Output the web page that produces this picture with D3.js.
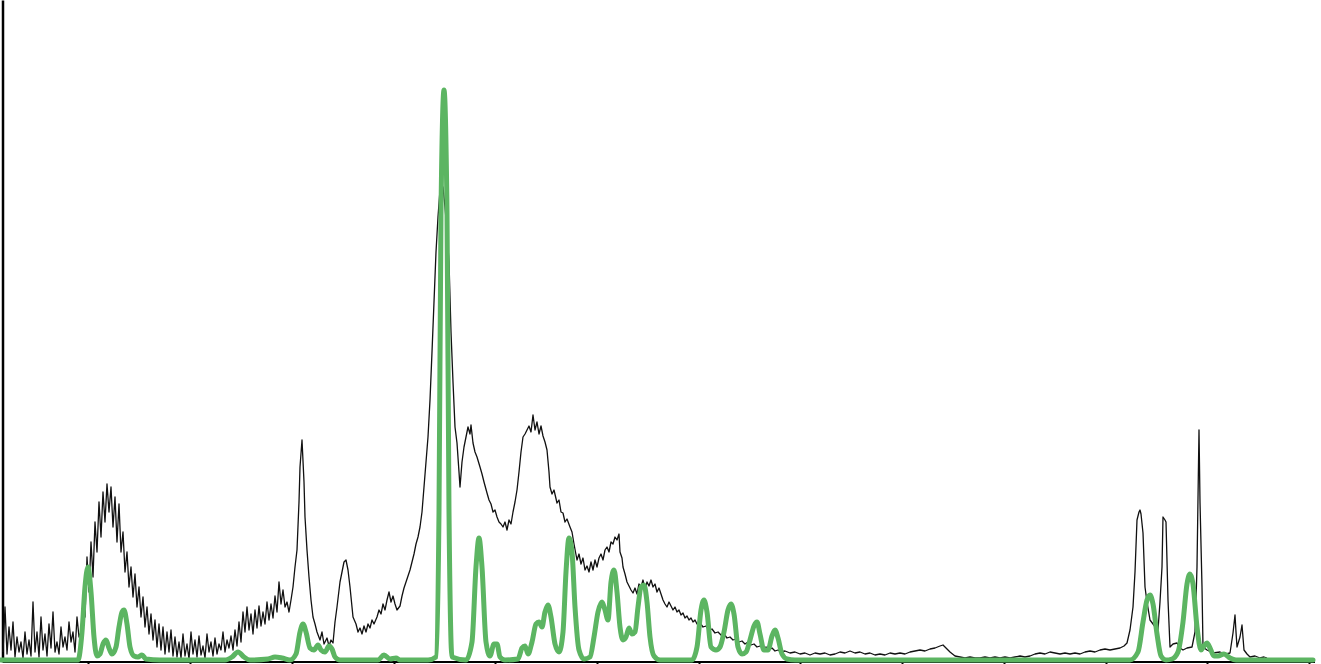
<!DOCTYPE html>
<html>
<head>
<meta charset="utf-8">
<script src="https://cdn.jsdelivr.net/npm/d3@7"></script>
<style>
  html, body { margin: 0; padding: 0; background: #fff; }
  svg { display: block; }
</style>
</head>
<body>
<svg id="chart" width="1321" height="664"></svg>
<script>
// measured spectrum (black), [channel, counts]
const measured = [
  [3,10],[5,55],[7,8],[9,35],[11,12],[13,40],[15,5],[17,25],[19,10],[21,20],[23,4],[25,30],
  [27,8],[29,22],[31,6],[33,60],[35,10],[37,30],[39,5],[41,45],[43,12],[45,28],[47,6],[49,38],
  [51,14],[53,50],[55,10],[57,20],[59,8],[61,35],[63,15],[65,25],[67,12],[69,40],[71,20],[73,30],
  [75,10],[77,45],[79,25],
  [81,30],[83,60],[85,45],[87,105],[89,70],[91,120],[93,85],[95,140],[97,110],[99,160],[101,125],
  [103,170],[105,140],[107,178],[109,150],[111,175],[113,135],[115,165],[117,120],[119,158],
  [121,110],[123,130],[125,90],[127,110],[129,75],[131,95],[133,65],[135,88],[137,55],[139,75],
  [141,45],[143,65],[145,35],[147,55],[149,28],[151,48],[153,22],[155,42],[157,15],[159,38],
  [161,12],[163,35],[165,8],[167,30],[169,10],[171,32],[173,6],
  [175,25],[177,5],[179,20],[181,4],[183,28],[185,6],[187,18],[189,3],[191,30],[193,8],[195,22],
  [197,5],[199,26],[201,7],[203,16],[205,4],[207,28],[209,10],[211,20],[213,6],[215,24],[217,8],
  [219,18],[221,12],[223,30],[225,10],[227,22],[229,14],[231,26],[233,12],[235,32],[237,16],
  [239,40],[241,20],[243,50],[245,30],[247,55],[249,32],[251,48],[253,28],[255,52],[257,34],
  [259,56],[261,36],[263,50],[265,38],[267,60],[269,42],[271,58],[273,44],[275,66],[277,50],
  [279,80],[281,58],[283,72],[285,55],[287,60],[289,50],[291,62],[293,75],[295,95],[297,112],
  [299,160],[300,195],[302,222],[304,180],[305,145],[307,112],[309,85],[311,62],[313,45],
  [315,38],[317,30],[320,22],[322,30],[324,18],[327,24],[329,16],[331,22],[333,19],[335,40],
  [337,55],[340,80],[342,90],[344,100],[346,102],[348,92],[350,75],[352,55],[353,45],[356,38],
  [358,30],[360,34],[362,28],[364,36],[366,30],[368,38],[370,34],[372,42],[374,38],[377,45],
  [379,52],[381,48],[383,58],[385,52],[387,62],[389,70],[391,60],[393,66],[395,58],[397,52],
  [400,56],[402,66],[404,74],[406,80],[408,86],[410,92],[412,100],[414,108],[416,118],
  [418,125],[420,135],[422,150],[424,175],[426,200],[428,225],[430,262],[432,310],[434,360],
  [436,410],[438,445],[440,472],[442,468],[443,475],[445,455],[447,430],[449,400],[451,330],
  [453,280],[455,235],[457,219],[459,190],[460,175],[462,200],[464,215],[466,225],[468,235],
  [470,228],[471,237],[473,219],[475,210],[477,205],[480,195],[482,188],[484,180],[487,169],
  [489,162],[491,158],[493,150],[495,152],[497,145],[499,140],[501,138],[503,135],[505,140],
  [507,132],[509,142],[511,138],[513,150],[515,160],[517,172],[519,190],[521,210],[523,225],
  [525,228],[527,232],[529,236],[531,230],[533,247],[535,232],[537,240],[539,228],[541,236],
  [543,226],[545,220],[547,212],[549,190],[550,175],[552,168],[554,172],[557,159],[559,162],
  [561,150],[563,149],[565,140],[567,143],[570,135],[572,130],[574,118],[577,102],[579,108],
  [581,98],[583,104],[585,92],[587,96],[589,90],[591,100],[593,92],[595,102],[597,95],
  [599,104],[601,108],[603,102],[605,112],[607,115],[609,110],[611,120],[613,118],[615,125],
  [617,122],[619,128],[620,110],[622,104],[623,95],[625,88],[627,80],[629,76],[631,72],
  [633,69],[635,74],[637,68],[639,78],[641,75],[643,82],[645,72],[647,80],[649,76],[651,82],
  [653,75],[655,78],[657,70],[659,74],[661,68],[663,62],[665,58],[667,55],[669,60],[671,56],
  [673,52],[675,55],[677,50],[679,52],[681,47],[683,49],[685,44],[687,46],[689,42],[691,44],
  [693,40],[695,42],[697,38],[700,39],[703,35],[706,36],[709,32],[712,33],[715,29],[718,30],
  [721,27],[724,28],[727,24],[730,25],[733,22],[736,23],[739,20],[742,21],[745,18],[748,20],
  [751,17],[754,18],[757,15],[760,16],[763,14],[766,15],[769,12],[772,14],[775,11],[778,12],
  [781,10],[785,11],[790,9],[795,10],[800,8],[805,9],[810,7],[815,9],[820,8],[825,9],[830,7],
  [835,8],[840,10],[845,9],[850,11],[855,9],[860,10],[865,8],[870,9],[875,7],[880,8],[885,7],
  [890,9],[895,8],[900,9],[905,8],[910,10],[915,11],[920,12],[925,11],[930,13],[935,14],
  [940,16],[943,17],[946,14],[950,10],[955,6],[960,5],[965,4],[970,5],[975,4],[980,4],
  [985,5],[990,4],[995,5],[1000,4],[1005,5],[1010,4],[1015,5],[1020,6],[1025,5],[1030,6],
  [1035,8],[1040,9],[1045,8],[1050,10],[1055,9],[1060,8],[1065,9],[1070,8],[1075,9],[1080,8],
  [1085,10],[1090,11],[1095,10],[1100,12],[1105,13],[1110,12],[1115,13],[1120,14],[1124,16],
  [1127,19],[1130,32],[1133,55],[1135,90],[1137,142],[1139,150],[1140,152],[1141,148],
  [1143,129],[1145,75],[1147,60],[1150,42],[1153,38],[1156,34],[1158,32],[1160,60],[1162,95],
  [1163,145],[1165,142],[1166,140],[1168,62],[1170,15],[1173,18],[1177,19],[1180,14],
  [1183,12],[1187,14],[1192,15],[1195,30],[1197,95],[1199,232],[1200,160],[1202,75],
  [1203,15],[1207,12],[1213,9],[1220,10],[1226,8],[1230,9],[1233,29],[1235,47],[1236,30],
  [1237,15],[1240,25],[1242,37],[1244,12],[1247,8],[1250,5],[1255,6],[1260,4],[1264,5],[1267,4]
];

// fitted components sum (green), [channel, counts]
const fitted = [
  [0,2],[78,2],[82,30],[85,75],[88,95],[91,70],[94,25],[97,6],[100,8],[103,18],[106,22],
  [109,14],[112,8],[116,15],[119,35],[122,50],[124,52],[127,38],[130,15],[134,6],[138,5],
  [142,7],[146,3],[160,2],[225,2],[232,5],[238,10],[244,5],[250,2],[268,3],[275,5],[282,4],
  [290,2],[296,8],[300,30],[303,38],[306,30],[310,14],[314,12],[318,17],[321,12],[325,10],
  [329,16],[332,13],[335,5],[340,2],[378,2],[384,7],[390,3],[396,4],[400,2],[428,2],[436,5],
  [439,150],[441,450],[444,572],[447,450],[449,150],[452,5],[466,2],[472,20],[476,95],
  [479,124],[482,95],[486,20],[490,6],[494,18],[497,18],[500,5],[505,2],[518,3],[522,14],
  [525,16],[528,8],[532,20],[536,38],[539,40],[542,35],[545,50],[548,57],[551,45],[555,18],
  [559,10],[563,30],[566,90],[569,124],[572,110],[575,55],[579,12],[584,3],[590,5],[594,25],
  [598,50],[602,60],[605,52],[608,42],[611,80],[614,92],[617,70],[620,35],[623,22],[626,25],
  [629,34],[632,28],[635,30],[638,55],[641,75],[644,77],[647,60],[650,25],[654,6],[660,2],
  [692,2],[697,15],[701,52],[704,62],[707,50],[711,15],[716,12],[720,15],[724,30],[728,52],
  [731,58],[734,48],[738,15],[742,8],[746,10],[750,22],[754,36],[757,40],[760,28],[764,12],
  [768,12],[772,26],[775,32],[778,24],[782,8],[787,3],[795,2],[1130,2],[1138,10],[1143,40],
  [1147,62],[1150,67],[1153,58],[1157,28],[1161,6],[1166,2],[1172,3],[1178,10],[1183,40],
  [1187,78],[1190,88],[1193,78],[1197,35],[1201,12],[1204,16],[1207,19],[1210,14],[1214,6],
  [1218,6],[1224,8],[1230,4],[1236,2],[1313,2]
];

const xTicks = [88, 190, 292, 394, 495, 597, 699, 800, 902, 1004, 1106, 1207, 1309];

const width = 1321, height = 664;
const svg = d3.select("#chart");

const x = d3.scaleLinear().domain([0, 1321]).range([0, 1321]);
const y = d3.scaleLinear().domain([0, 662]).range([662, 0]);

// axes
svg.append("g")
  .attr("transform", "translate(0,662)")
  .call(d3.axisBottom(x).tickValues(xTicks).tickFormat("").tickSize(5).tickSizeOuter(0))
  .call(g => g.select(".domain").attr("d", `M${x(3)},0H${x(1315)}`).attr("stroke-width", 2))
  .call(g => g.selectAll(".tick line").attr("stroke-width", 2));

svg.append("g")
  .attr("transform", "translate(2.5,0)")
  .call(d3.axisLeft(y).tickValues([]).tickSizeOuter(0))
  .call(g => g.select(".domain").attr("stroke-width", 2.5));

const blackLine = d3.line()
  .x(d => x(d[0]))
  .y(d => y(d[1]));

svg.append("path")
  .datum(measured)
  .attr("fill", "none")
  .attr("stroke", "#111")
  .attr("stroke-width", 1.3)
  .attr("stroke-linejoin", "round")
  .attr("d", blackLine);

const greenLine = d3.line()
  .curve(d3.curveMonotoneX)
  .x(d => x(d[0]))
  .y(d => y(d[1]));

svg.append("path")
  .datum(fitted)
  .attr("fill", "none")
  .attr("stroke", "#5cb562")
  .attr("stroke-width", 5)
  .attr("stroke-linejoin", "round")
  .attr("stroke-linecap", "round")
  .attr("d", greenLine);
</script>
</body>
</html>
